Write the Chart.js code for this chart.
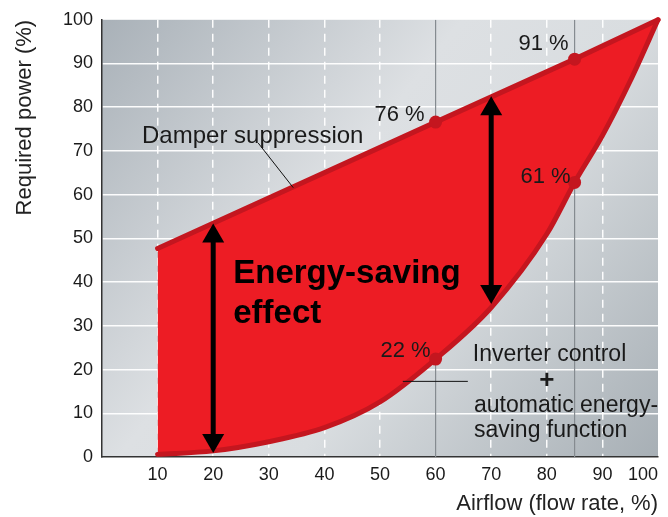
<!DOCTYPE html>
<html><head><meta charset="utf-8">
<script src="https://cdn.jsdelivr.net/npm/chart.js@4/dist/chart.umd.min.js"></script>
<style>html,body{margin:0;padding:0;background:#fff}</style>
</head><body>
<canvas id="c" width="668" height="517" style="display:block;width:668px;height:517px"></canvas>
<script>
// ---- data ----
const xTicks = [10, 20, 30, 40, 50, 60, 70, 80, 90, 100];
const yTicks = [0, 10, 20, 30, 40, 50, 60, 70, 80, 90, 100];
const damperFlow = [10, 60, 85, 100];
const damperPower = [47.7, 76.6, 91, 100];
const inverterFlow = [10, 20, 30, 40, 50, 60, 70, 80, 85, 90, 95, 100];
const inverterPower = [0.6, 1.4, 3.5, 6.7, 12.6, 22.4, 34.2, 51, 62.8, 73.5, 86, 100];
const markerFlow = [60, 85];
const damperMarkLabels = ['76 %', '91 %'];
const inverterMarkLabels = ['22 %', '61 %'];
const refLineFlow = [60, 85];
const arrowFlow = [20, 70];
const arrowTop = [53.4, 82.5];
const arrowBottom = [0.9, 35];

const FONT = "'Liberation Sans', Arial, Helvetica, sans-serif";
const RED = '#ed1c24', DARKRED = '#c4161f', TXT = '#1a1a1a';

const bgPlugin = {
  id: 'bg',
  beforeDraw(chart) {
    const {ctx, chartArea: a} = chart;
    const g = ctx.createLinearGradient(a.left, a.top, a.right, a.bottom);
    g.addColorStop(0, '#a9b1b8');
    g.addColorStop(0.4, '#dde0e3');
    g.addColorStop(0.6, '#d9dde0');
    g.addColorStop(1, '#a7afb5');
    ctx.save();
    ctx.fillStyle = g;
    ctx.fillRect(a.left, a.top, a.right - a.left, a.bottom - a.top);
    ctx.restore();
  }
};

const annotPlugin = {
  id: 'annot',
  afterDatasetsDraw(chart) {
    const {ctx, scales: {x, y}} = chart;
    const X = v => x.getPixelForValue(v), Y = v => y.getPixelForValue(v);
    ctx.save();
    // leader lines
    ctx.strokeStyle = '#111'; ctx.lineWidth = 1;
    ctx.beginPath(); ctx.moveTo(X(28.1), Y(71.8)); ctx.lineTo(X(34.4), Y(61.6)); ctx.stroke();
    ctx.beginPath(); ctx.moveTo(X(54.1), Y(17.3)); ctx.lineTo(X(65.8), Y(17.3)); ctx.stroke();
    // double arrows
    ctx.fillStyle = '#000'; ctx.strokeStyle = '#000';
    arrowFlow.forEach((f, i) => {
      const px = X(f), t = Y(arrowTop[i]), b = Y(arrowBottom[i]);
      const hl = 19, hw = 11;
      ctx.lineWidth = 5;
      ctx.beginPath(); ctx.moveTo(px, t + hl - 1); ctx.lineTo(px, b - hl + 1); ctx.stroke();
      ctx.beginPath(); ctx.moveTo(px, t); ctx.lineTo(px - hw, t + hl); ctx.lineTo(px + hw, t + hl); ctx.closePath(); ctx.fill();
      ctx.beginPath(); ctx.moveTo(px, b); ctx.lineTo(px - hw, b - hl); ctx.lineTo(px + hw, b - hl); ctx.closePath(); ctx.fill();
    });
    // texts
    ctx.fillStyle = TXT;
    ctx.textBaseline = 'alphabetic';
    ctx.textAlign = 'left';
    ctx.font = '24px ' + FONT;
    ctx.fillText('Damper suppression', X(7.2), Y(71.8));
    ctx.font = '23px ' + FONT;
    ctx.fillText('Inverter control', X(66.7), Y(22.0));
    ctx.fillText('automatic energy-', X(66.9), Y(10.2));
    ctx.fillText('saving function', X(66.9), Y(4.5));
    ctx.textAlign = 'center'; ctx.textBaseline = 'middle';
    ctx.font = 'bold 26px ' + FONT;
    ctx.fillText('+', X(80), Y(17.5));
    // marker labels
    ctx.font = '22px ' + FONT; ctx.textAlign = 'right'; ctx.textBaseline = 'alphabetic';
    const dOff = [[-11, -1], [-6, -9]];
    const iOff = [[-5, -2], [-4, 1]];
    markerFlow.forEach((f, i) => {
      const di = damperFlow.indexOf(f);
      ctx.fillText(damperMarkLabels[i], X(f) + dOff[i][0], Y(damperPower[di]) + dOff[i][1]);
      const ii = inverterFlow.indexOf(f);
      ctx.fillText(inverterMarkLabels[i], X(f) + iOff[i][0], Y(inverterPower[ii]) + iOff[i][1]);
    });
    // big label
    ctx.textAlign = 'left';
    ctx.font = 'bold 33px ' + FONT;
    ctx.fillStyle = '#000';
    ctx.fillText('Energy-saving', X(23.6), Y(39.8));
    ctx.fillText('effect', X(23.6), Y(30.7));
    ctx.restore();
  }
};

const pts = (xs, ys) => xs.map((v, i) => ({x: v, y: ys[i]}));

new Chart(document.getElementById('c'), {
  type: 'line',
  data: {
    datasets: [
      {
        label: 'Damper suppression',
        data: pts(damperFlow, damperPower),
        borderColor: DARKRED, borderWidth: 5, backgroundColor: RED,
        fill: '+1', tension: 0, borderJoinStyle: 'round', borderCapStyle: 'round',
        pointRadius: damperFlow.map(v => markerFlow.includes(v) ? 6.5 : 0),
        pointBackgroundColor: DARKRED, pointBorderWidth: 0,
        clip: 4, order: 0
      },
      {
        label: 'Inverter control',
        data: pts(inverterFlow, inverterPower),
        borderColor: DARKRED, borderWidth: 5, fill: false,
        cubicInterpolationMode: 'monotone', borderJoinStyle: 'round', borderCapStyle: 'round',
        pointRadius: inverterFlow.map(v => markerFlow.includes(v) ? 6.5 : 0),
        pointBackgroundColor: DARKRED, pointBorderWidth: 0,
        clip: 4, order: -1
      },
      ...refLineFlow.map(f => ({
        label: 'ref' + f,
        data: [{x: f, y: yTicks[0]}, {x: f, y: yTicks[yTicks.length - 1]}],
        borderColor: '#858b90', borderWidth: 1.2, pointRadius: 0, fill: false, order: 10
      }))
    ]
  },
  options: {
    responsive: false,
    animation: false,
    devicePixelRatio: 1,
    layout: {padding: {top: 17, right: 10, bottom: 0, left: 0}},
    plugins: {legend: {display: false}, tooltip: {enabled: false}},
    scales: {
      x: {
        type: 'linear', min: 0, max: 100,
        afterBuildTicks: s => { s.ticks = [0, ...xTicks].map(v => ({value: v})); },
        afterFit: s => { s.height = 60; s.paddingLeft = 0; s.paddingRight = 0; },
        ticks: {
          callback: v => (xTicks.includes(v) ? String(v) : ''),
          align: 'inner', padding: 7, color: TXT, font: {family: FONT, size: 18}, maxRotation: 0
        },
        grid: {
          drawTicks: false, lineWidth: 1.5,
          color: c => (c.tick && [0, 100].concat(refLineFlow).includes(c.tick.value)) ? 'rgba(0,0,0,0)' : 'rgba(255,255,255,0.95)'
        },
        border: {display: true, color: '#333', width: 1.5, dash: [8, 6]},
        title: {display: true, text: 'Airflow (flow rate, %)', align: 'end', color: '#222',
          font: {family: FONT, size: 22}, padding: {top: 0, bottom: 0}}
      },
      y: {
        type: 'linear', min: 0, max: 100,
        afterBuildTicks: s => { s.ticks = yTicks.map(v => ({value: v})); },
        afterFit: s => { s.width = 102; },
        ticks: {padding: 9, color: TXT, font: {family: FONT, size: 18}},
        grid: {
          drawTicks: false, lineWidth: 1.5,
          color: c => (c.tick && (c.tick.value === 0 || c.tick.value === 100)) ? 'rgba(0,0,0,0)' : 'rgba(255,255,255,0.95)'
        },
        border: {display: true, color: '#333', width: 1.5},
        title: {display: true, text: 'Required power (%)', align: 'end', color: '#222',
          font: {family: FONT, size: 22}, padding: {top: 12, bottom: 0}}
      }
    }
  },
  plugins: [bgPlugin, annotPlugin]
});
</script>
</body></html>
